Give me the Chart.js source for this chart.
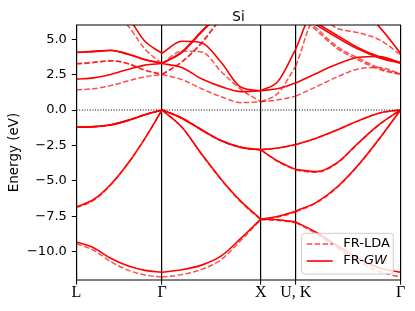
<!DOCTYPE html>
<html>
<head>
<meta charset="utf-8">
<script src="https://cdn.jsdelivr.net/npm/chart.js@4.4.0/dist/chart.umd.min.js"></script>
<style>
  html, body { margin: 0; padding: 0; background: #fff; }
</style>
</head>
<body>
<canvas id="bands" width="415" height="311"></canvas>
<script>
// Si band structure along L-Γ-X-U,K-Γ, FR-LDA (dashed) vs FR-GW (solid).

var kPath = [0, 0.173, 0.346, 0.520, 0.693, 0.866,
             1.066, 1.266, 1.466, 1.666, 1.866,
             2.043, 2.220,
             2.432, 2.644, 2.857, 3.069, 3.281];
var kTicks = [0, 0.866, 1.866, 2.220, 3.281];
var kLabels = ['L', 'Γ', 'X', 'U, K', 'Γ'];
var energyTicks = [-10, -7.5, -5, -2.5, 0, 2.5, 5];
var fermiLevel = [0, 0];

// GW bands (eV), one value per kPath point
var gwV1 = [-9.32, -9.72, -10.47, -11.0, -11.32, -11.45, -11.28, -10.95, -10.3, -9.05, -7.7, -7.75, -7.9, -8.65, -9.6, -10.5, -11.15, -11.45];
var gwV2 = [-6.83, -6.32, -5.26, -3.78, -2.0, 0, -1.2, -3.1, -4.9, -6.45, -7.7, -7.5, -7.14, -6.5, -5.4, -3.85, -2.0, 0];
var gwV3 = [-1.2, -1.17, -1.04, -0.73, -0.33, 0, -0.56, -1.39, -2.16, -2.63, -2.8, -2.68, -2.44, -1.97, -1.39, -0.75, -0.21, 0];
var gwV4 = [-1.22, -1.19, -1.06, -0.75, -0.34, 0, -0.58, -1.41, -2.18, -2.65, -2.82, -3.62, -4.2, -4.35, -3.7, -2.3, -1.0, 0];
var gwC1 = [2.18, 2.27, 2.51, 2.86, 3.17, 3.28, 3.0, 2.2, 1.65, 1.3, 1.36, 1.52, 1.9, 2.6, 3.25, 3.72, 3.78, 3.32];
var gwC2 = [4.06, 4.12, 4.2, 3.94, 3.55, 3.28, 4.1, 5.56, 6.9, 8.0, 8.8, 8.6, 7.2, 6.15, 5.25, 4.38, 3.75, 3.36];
var gwC3 = [7.8, 7.6, 7.0, 6.5, 4.85, 4.0, 4.85, 4.75, 3.35, 1.6, 1.36, 2.05, 4.3, 7.5, 7.8, 7.2, 5.85, 4.0];
var gwC4 = [4.08, 4.14, 4.22, 3.96, 3.57, 3.3, 4.05, 5.5, 6.85, 8.0, 8.8, 8.6, 7.0, 6.0, 5.1, 4.28, 3.68, 3.3];

// LDA bands (eV)
var ldaV1 = [-9.45, -9.9, -10.7, -11.3, -11.65, -11.8, -11.62, -11.25, -10.55, -9.2, -7.75, -7.8, -7.95, -8.75, -9.75, -10.7, -11.4, -11.8];
var ldaV2 = [-6.9, -6.38, -5.3, -3.8, -2.02, 0, -1.22, -3.12, -4.93, -6.5, -7.75, -7.55, -7.2, -6.55, -5.45, -3.88, -2.02, 0];
var ldaV3 = [-1.2, -1.17, -1.04, -0.73, -0.33, 0, -0.56, -1.39, -2.16, -2.63, -2.8, -2.68, -2.45, -1.98, -1.4, -0.76, -0.22, 0];
var ldaV4 = [-1.22, -1.19, -1.06, -0.75, -0.34, 0, -0.58, -1.41, -2.18, -2.65, -2.82, -3.66, -4.26, -4.4, -3.74, -2.33, -1.02, 0];
var ldaC1 = [1.43, 1.5, 1.72, 2.05, 2.35, 2.5, 2.15, 1.5, 0.93, 0.52, 0.58, 0.72, 0.98, 1.65, 2.35, 2.9, 3.0, 2.55];
var ldaC2 = [3.24, 3.35, 3.46, 3.27, 2.8, 2.5, 3.4, 4.76, 6.5, 7.8, 8.8, 8.4, 7.0, 5.75, 4.45, 3.65, 2.95, 2.55];
var ldaC3 = [7.5, 7.3, 6.9, 5.95, 4.3, 3.28, 4.15, 4.1, 2.7, 1.45, 0.58, 1.2, 3.1, 6.6, 5.75, 5.45, 4.95, 3.9];
var ldaC4 = [3.26, 3.37, 3.48, 3.29, 2.82, 2.52, 3.38, 4.7, 6.45, 7.8, 8.8, 8.4, 7.0, 5.6, 4.32, 3.52, 2.85, 2.5];

var gwBands = [gwV1, gwV2, gwV3, gwV4, gwC1, gwC2, gwC3, gwC4];
var ldaBands = [ldaV1, ldaV2, ldaV3, ldaV4, ldaC1, ldaC2, ldaC3, ldaC4];
var legendEntries = [{ text: 'FR-LDA', italic: '' }, { text: 'FR-', italic: 'GW' }];
var plotTitle = 'Si';
var yTitle = 'Energy (eV)';

var RED = 'rgb(255, 0, 0)';
var RED_FADED = 'rgba(255, 0, 0, 0.7)';
var LDA_DASH = [5.5, 2.4];
var SANS = "'DejaVu Sans', sans-serif";

// each path segment between high-symmetry points is drawn on its own,
// so bands may have a kink where they meet at Γ, X, U/K
var segStarts = kTicks.slice(0, -1).map(function (k) { return kPath.indexOf(k); });
var segEnds = kTicks.slice(1).map(function (k) { return kPath.indexOf(k); });

function segmentPoints(band, s) {
  var pts = [];
  for (var i = segStarts[s]; i <= segEnds[s]; i++) pts.push({ x: kPath[i], y: band[i] });
  return pts;
}

var datasets = [];
function addBands(bands, style) {
  bands.forEach(function (band) {
    for (var s = 0; s < segStarts.length; s++) {
      datasets.push({
        label: style.label, data: segmentPoints(band, s), borderColor: style.color,
        borderWidth: style.width, borderDash: style.dash, order: style.order
      });
    }
  });
}
addBands(ldaBands, { label: 'FR-LDA', color: RED_FADED, width: 1.5, dash: LDA_DASH, order: 2 });
addBands(gwBands, { label: 'FR-GW', color: RED, width: 1.6, dash: [], order: 1 });
datasets.push({
  label: 'fermi',
  data: [{ x: kTicks[0], y: fermiLevel[0] }, { x: kTicks[kTicks.length - 1], y: fermiLevel[1] }],
  borderColor: '#000', borderWidth: 1, borderDash: [1, 1.65],
  cubicInterpolationMode: 'default', tension: 0, order: 0
});

var decorPlugin = {
  id: 'decor',
  afterDatasetsDraw: function (chart) {
    var ctx = chart.ctx, a = chart.chartArea;
    ctx.save();
    // legend box, lower right inside the axes
    var w = 91.6, h = 40.7, r = 3;
    var bx = a.right - 7.2 - w, by = a.bottom - 6 - h;
    ctx.beginPath();
    ctx.moveTo(bx + r, by);
    ctx.lineTo(bx + w - r, by);
    ctx.quadraticCurveTo(bx + w, by, bx + w, by + r);
    ctx.lineTo(bx + w, by + h - r);
    ctx.quadraticCurveTo(bx + w, by + h, bx + w - r, by + h);
    ctx.lineTo(bx + r, by + h);
    ctx.quadraticCurveTo(bx, by + h, bx, by + h - r);
    ctx.lineTo(bx, by + r);
    ctx.quadraticCurveTo(bx, by, bx + r, by);
    ctx.closePath();
    ctx.fillStyle = 'rgba(255,255,255,0.8)';
    ctx.fill();
    ctx.strokeStyle = '#cccccc';
    ctx.lineWidth = 1;
    ctx.stroke();

    var styles = [
      { color: RED_FADED, width: 1.5, dash: LDA_DASH },
      { color: RED, width: 1.6, dash: [] }
    ];
    legendEntries.forEach(function (entry, i) {
      var ly = by + 10.7 + i * 17;
      ctx.beginPath();
      ctx.setLineDash(styles[i].dash);
      ctx.strokeStyle = styles[i].color;
      ctx.lineWidth = styles[i].width;
      ctx.moveTo(bx + 5, ly);
      ctx.lineTo(bx + 31, ly);
      ctx.stroke();
      ctx.setLineDash([]);
      ctx.fillStyle = '#000';
      ctx.textBaseline = 'middle';
      ctx.textAlign = 'left';
      ctx.font = '13px ' + SANS;
      ctx.fillText(entry.text, bx + 41.6, ly);
      if (entry.italic) {
        var tw = ctx.measureText(entry.text).width;
        ctx.font = 'italic 13px ' + SANS;
        ctx.fillText(entry.italic, bx + 41.6 + tw, ly);
      }
    });
    ctx.restore();
  },
  afterDraw: function (chart) {
    var ctx = chart.ctx, a = chart.chartArea;
    ctx.save();
    ctx.strokeStyle = '#000';
    ctx.lineWidth = 1;
    ctx.strokeRect(a.left, a.top, a.right - a.left, a.bottom - a.top);
    ctx.fillStyle = '#000';
    ctx.font = '13.5px ' + SANS;
    ctx.textAlign = 'center';
    ctx.textBaseline = 'alphabetic';
    ctx.fillText(plotTitle, (a.left + a.right) / 2, 20.5);
    ctx.restore();
  }
};

new Chart(document.getElementById('bands'), {
  type: 'line',
  data: { datasets: datasets },
  options: {
    responsive: false,
    devicePixelRatio: 1,
    animation: false,
    layout: { padding: { top: 25, right: 14.5, left: 0, bottom: 0 } },
    elements: {
      point: { radius: 0, hoverRadius: 0 },
      line: { cubicInterpolationMode: 'monotone', fill: false, borderCapStyle: 'butt' }
    },
    plugins: { legend: { display: false }, tooltip: { enabled: false }, title: { display: false } },
    scales: {
      x: {
        type: 'linear',
        min: kTicks[0],
        max: kTicks[kTicks.length - 1],
        afterFit: function (scale) { scale.height = 31; },
        afterBuildTicks: function (scale) {
          scale.ticks = kTicks.map(function (v) { return { value: v }; });
        },
        border: { display: false },
        grid: { color: '#000', lineWidth: 1.2, drawTicks: true, tickLength: 4.7, tickColor: '#000', tickWidth: 1 },
        ticks: {
          autoSkip: false, maxRotation: 0, padding: -1.5, color: '#000',
          font: { family: "'Liberation Serif', 'DejaVu Serif', serif", size: 16 },
          callback: function (value, index) { return kLabels[index]; }
        }
      },
      y: {
        type: 'linear',
        min: -12,
        max: 6,
        afterFit: function (scale) { scale.width = 76.5; },
        afterBuildTicks: function (scale) {
          scale.ticks = energyTicks.map(function (v) { return { value: v }; });
        },
        border: { display: false },
        grid: { drawOnChartArea: false, drawTicks: true, tickLength: 4.7, tickColor: '#000', tickWidth: 1 },
        title: { display: true, text: yTitle, color: '#000', font: { family: SANS, size: 13.5 }, padding: { top: 6, bottom: 0 } },
        ticks: {
          padding: 5, color: '#000',
          font: { family: SANS, size: 13 },
          callback: function (v) { return (v < 0 ? '\u2212' : '') + Math.abs(v).toFixed(1); }
        }
      }
    }
  },
  plugins: [decorPlugin]
});
</script>
</body>
</html>
